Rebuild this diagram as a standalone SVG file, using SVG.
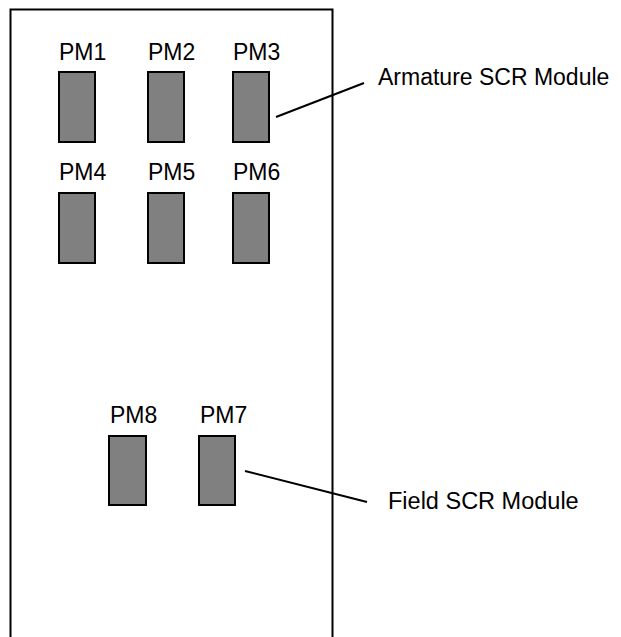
<svg xmlns="http://www.w3.org/2000/svg" width="621" height="637" viewBox="0 0 621 637">
<style>
.frame{fill:none;stroke:#000;stroke-width:2}
.pm{fill:#808080;stroke:#000;stroke-width:2}
.lbl{font-family:"Liberation Sans",Arial,sans-serif;font-size:23px;fill:#000}
.conn{stroke:#000;stroke-width:2;fill:none}
</style>
<rect width="621" height="637" fill="#fff"/>
<path class="frame" d="M10.5,640 V9.5 H332.5 V640"/>
<g id="PM1"><rect class="pm" x="59" y="72" width="36" height="70"/><text class="lbl" x="59" y="60">PM1</text></g>
<g id="PM2"><rect class="pm" x="148" y="72" width="36" height="70"/><text class="lbl" x="148" y="60">PM2</text></g>
<g id="PM3"><rect class="pm" x="233" y="72" width="36" height="70"/><text class="lbl" x="233" y="60">PM3</text></g>
<g id="PM4"><rect class="pm" x="59" y="193" width="36" height="70"/><text class="lbl" x="59" y="180">PM4</text></g>
<g id="PM5"><rect class="pm" x="148" y="193" width="36" height="70"/><text class="lbl" x="148" y="180">PM5</text></g>
<g id="PM6"><rect class="pm" x="233" y="193" width="36" height="70"/><text class="lbl" x="233" y="180">PM6</text></g>
<g id="PM8"><rect class="pm" x="109" y="436" width="37" height="69"/><text class="lbl" x="110" y="423">PM8</text></g>
<g id="PM7"><rect class="pm" x="199" y="436" width="36" height="69"/><text class="lbl" x="200" y="423">PM7</text></g>
<g id="armature-label"><text class="lbl" x="378" y="85">Armature SCR Module</text></g>
<g id="field-label"><text class="lbl" x="388" y="509" style="font-size:23.5px">Field SCR Module</text></g>
<g id="connectors">
<line class="conn" x1="276" y1="117" x2="364" y2="83"/>
<line class="conn" x1="245" y1="471" x2="367" y2="502"/>
</g>
</svg>
